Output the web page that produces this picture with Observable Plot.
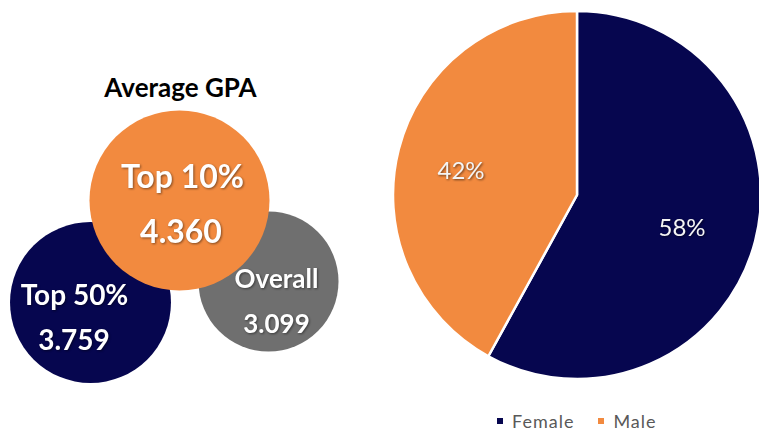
<!DOCTYPE html>
<html>
<head>
<meta charset="utf-8">
<script src="https://cdn.jsdelivr.net/npm/d3@7"></script>
<script src="https://cdn.jsdelivr.net/npm/@observablehq/plot@0.6"></script>
<style>
  html, body { margin: 0; padding: 0; background: #fff; }
  #wrap { position: relative; width: 759px; height: 433px; overflow: hidden; font-family: Lato, "Open Sans", sans-serif; }
  #left { position: absolute; left: 0; top: 0; }
  #right { position: absolute; left: 360px; top: 0; }
  #legend { position: absolute; left: 497px; top: 412px; }
  .bubbles g[aria-label="text"].shadowed text { filter: drop-shadow(1px 1.5px 1px rgba(0,0,0,0.45)); }
  .pie g[aria-label="text"] text { filter: drop-shadow(1px 1px 1px rgba(0,0,0,0.55)); }
  #legend .lg-swatches { min-height: 0; margin: 0; line-height: 18px; }
  #legend .lg-swatch { margin-right: 24px; letter-spacing: 1px; line-height: 18px; }
  #legend .lg-swatch > svg { margin-right: 9px; }
</style>
</head>
<body>
<div id="wrap">
  <div id="left"></div>
  <div id="right"></div>
  <div id="legend"></div>
</div>
<script>
// ---- data ----
const gpaTitle = "Average GPA";
const gpaGroups = ["Top 50%", "Overall", "Top 10%"];
const gpaValues = [3.759, 3.099, 4.360];
const genderLabels = ["Female", "Male"];
const genderShares = [58, 42];

// ---- styles / layout ----
const navy = "#06064f", orange = "#f28a3f", gray = "#6f6f6f";
const bubbleColors = [navy, gray, orange];
const genderColors = [navy, orange];
const bubbleOrderX = ["Top 50%", "Top 10%", "Overall"];
const bubbleRow = {"Top 50%": 302, "Top 10%": 200, "Overall": 281};
const labelStyle = {
  "Top 10%": {size: 32, nameDx: 3, nameDy: -23, valueDx: 1.5, valueDy: 32},
  "Top 50%": {size: 28, nameDx: -16, nameDy: -6, valueDx: -16.5, valueDy: 39},
  "Overall": {size: 26, nameDx: 8, nameDy: -2, valueDx: 8, valueDy: 43}
};
const font = "Lato, 'Open Sans', sans-serif";

// ---- left: GPA bubbles ----
const gpaData = gpaGroups.map((g, i) => ({group: g, gpa: gpaValues[i]}));
const labelMarks = gpaData.flatMap(d => {
  const s = labelStyle[d.group];
  const common = {x: "group", y: r => bubbleRow[r.group], fill: "#fff", fontSize: s.size, fontWeight: 700, fontFamily: font, className: "shadowed"};
  return [
    Plot.text([d], {...common, text: "group", dx: s.nameDx, dy: s.nameDy}),
    Plot.text([d], {...common, text: r => r.gpa.toFixed(3), dx: s.valueDx, dy: s.valueDy})
  ];
});
const left = Plot.plot({
  width: 360, height: 433, margin: 0,
  className: "bubbles",
  style: {background: "transparent", overflow: "visible"},
  x: {type: "point", domain: bubbleOrderX, range: [89, 268], padding: 0, axis: null},
  y: {type: "identity", axis: null},
  r: {type: "linear", domain: d3.extent(gpaValues), range: [70, 90]},
  color: {type: "ordinal", domain: gpaGroups, range: bubbleColors},
  marks: [
    Plot.dot(gpaData, {x: "group", y: d => bubbleRow[d.group], r: "gpa", fill: "group", sort: null}),
    Plot.text([gpaTitle], {frameAnchor: "top", lineAnchor: "middle", dy: 88, text: d => d, fontSize: 26, fontWeight: 700, fontFamily: font, fill: "#000"}),
    ...labelMarks
  ]
});
document.getElementById("left").append(left);

// ---- right: gender pie ----
const pieData = genderLabels.map((g, i) => ({gender: g, share: genderShares[i]}));
const pieArcs = d3.pie().sort(null).value(d => d.share)(pieData);
const labelRadius = 0.62;
const pieLabels = pieArcs.map(a => {
  const mid = (a.startAngle + a.endAngle) / 2;
  return {text: a.data.share + "%", px: Math.sin(mid) * labelRadius, py: -Math.cos(mid) * labelRadius};
});
const pie = Plot.plot({
  width: 399, height: 408, margin: 0,
  className: "pie",
  style: {background: "transparent", overflow: "hidden"},
  x: {domain: [-1, 1], range: [33, 401], axis: null},
  y: {domain: [-1, 1], range: [11, 379], axis: null},
  color: {type: "ordinal", domain: genderLabels, range: genderColors},
  marks: [
    Plot.dot(pieData, {
      x: () => 0, y: () => 0, fill: "gender",
      render(index, scales, values) {
        const cx = scales.x(0), cy = scales.y(0), r = scales.x(1) - cx;
        const arcs = d3.pie().sort(null).value(i => pieData[i].share)(index);
        const arc = d3.arc().innerRadius(0).outerRadius(r);
        const g = d3.create("svg:g").attr("transform", `translate(${cx},${cy})`);
        g.selectAll("path").data(arcs).join("path")
          .attr("d", arc)
          .attr("fill", a => values.fill[a.data])
          .attr("stroke", "#fff").attr("stroke-width", 2.5).attr("stroke-linejoin", "round");
        return g.node();
      }
    }),
    Plot.text(pieLabels, {x: "px", y: "py", text: "text", fill: "#f4f4f4", fontSize: 24, fontFamily: font, dx: -6, dy: 4})
  ]
});
document.getElementById("right").append(pie);

// ---- legend ----
const legend = Plot.legend({
  color: {type: "ordinal", domain: genderLabels, range: genderColors},
  swatchSize: 6,
  className: "lg",
  style: {fontSize: "18px", fontFamily: font, color: "#595959", background: "transparent"}
});
document.getElementById("legend").append(legend);
</script>
</body>
</html>
